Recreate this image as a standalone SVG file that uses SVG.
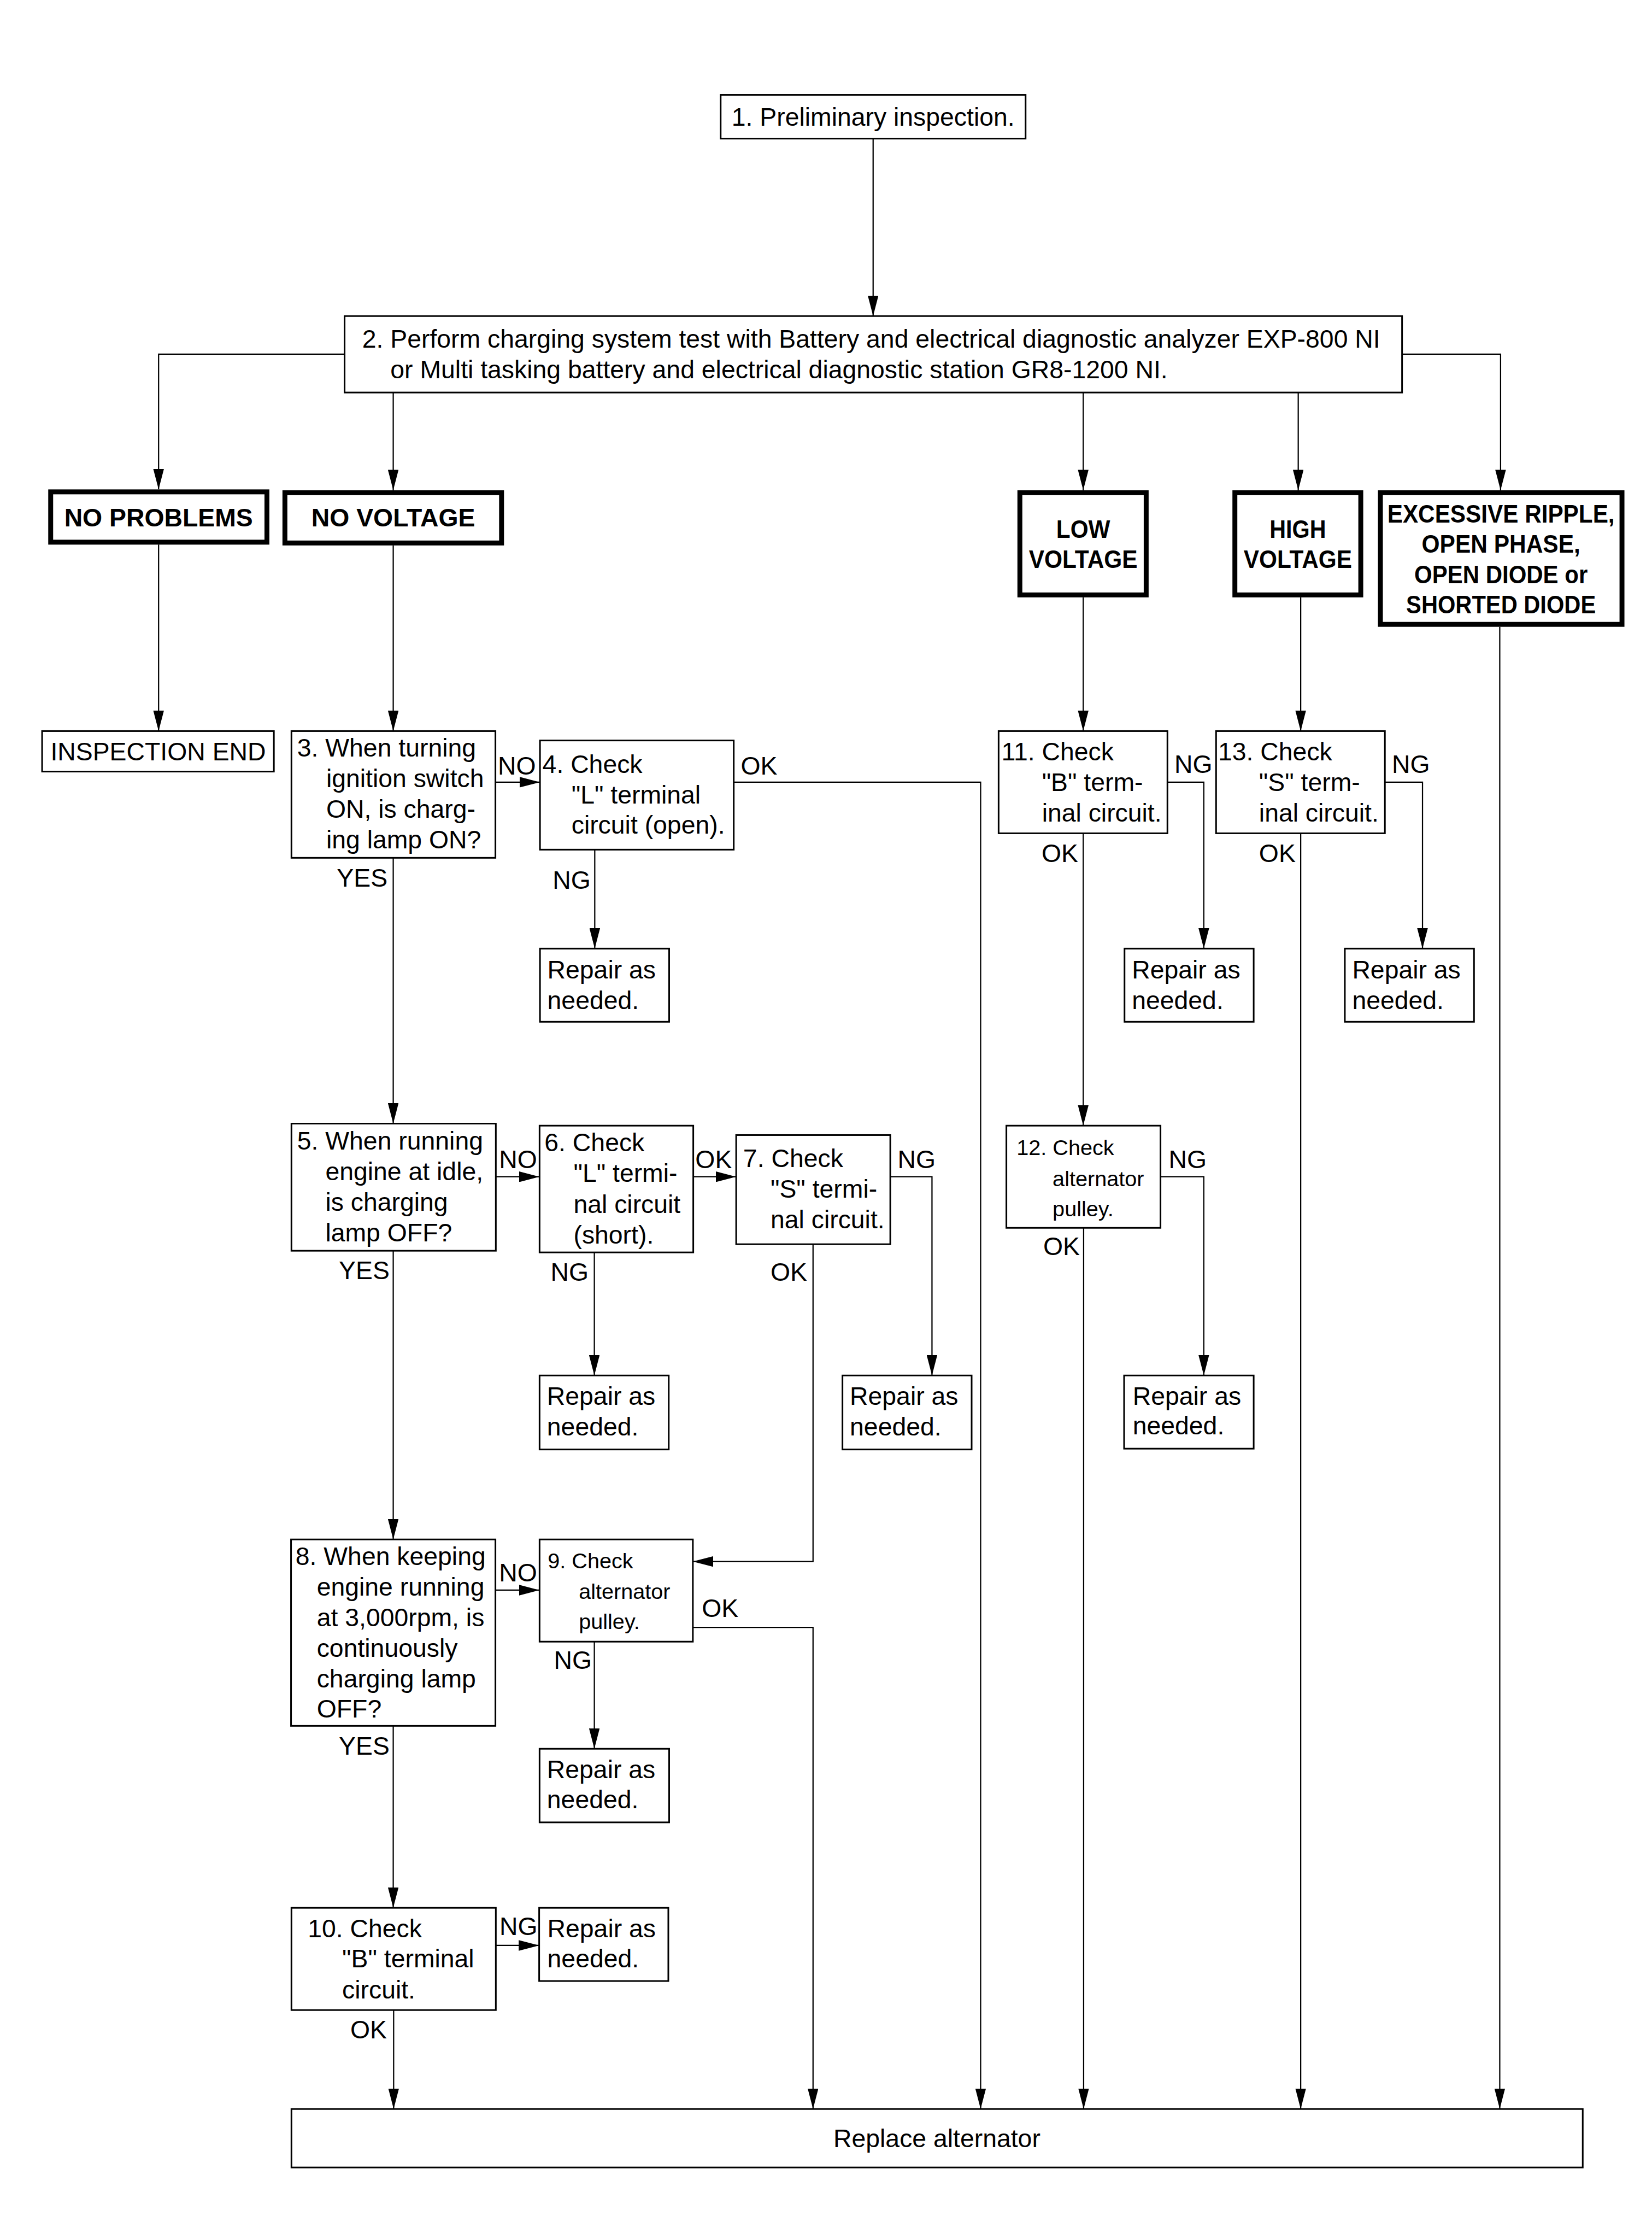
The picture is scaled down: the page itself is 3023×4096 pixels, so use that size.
<svg xmlns="http://www.w3.org/2000/svg" width="3023" height="4096" viewBox="0 0 3023 4096">
<style>
.box{fill:#fff;stroke:#000;stroke-width:4}
.bbox{fill:#fff;stroke:#000;stroke-width:12}
.t{font-family:"Liberation Sans",Arial,Helvetica,sans-serif;font-size:62px;fill:#000}
.b{font-weight:bold}
.s{font-size:53px}
.c{text-anchor:middle}
.ln{fill:none;stroke:#000;stroke-width:3;marker-end:url(#ah)}
.pl{fill:none;stroke:#000;stroke-width:3}
</style>
<defs>
<marker id="ah" viewBox="0 0 50 26" refX="50" refY="13" markerWidth="50" markerHeight="26" markerUnits="userSpaceOnUse" orient="auto">
<path d="M0,0 L50,13 L0,26 Z" fill="#000"/>
</marker>
</defs>
<rect width="3023" height="4096" fill="#fff"/>
<g transform="scale(0.748)">
<g id="connectors">
<path class="ln" d="M2136,339 V773"/>
<path class="ln" d="M843,866 H388 V1197"/>
<path class="ln" d="M962,960 V1199"/>
<path class="ln" d="M2650,960 V1199"/>
<path class="ln" d="M3176,960 V1199"/>
<path class="ln" d="M3430,866 H3671 V1199"/>
<path class="ln" d="M388,1332 V1788"/>
<path class="ln" d="M962,1334 V1788"/>
<path class="ln" d="M2650,1461 V1788"/>
<path class="ln" d="M3182,1461 V1788"/>
<path class="ln" d="M3669,1533 V5158"/>
<path class="ln" d="M1212,1913 H1321"/>
<path class="ln" d="M1795,1913 H2399 V5158"/>
<path class="ln" d="M1455,2078 V2320"/>
<path class="ln" d="M962,2098 V2748"/>
<path class="ln" d="M2856,1913 H2945 V2320"/>
<path class="ln" d="M2650,2038 V2753"/>
<path class="ln" d="M3388,1913 H3480 V2320"/>
<path class="ln" d="M3182,2038 V5158"/>
<path class="ln" d="M1213,2878 H1320"/>
<path class="ln" d="M1696,2878 H1801"/>
<path class="ln" d="M2178,2878 H2280 V3364"/>
<path class="ln" d="M1454,3063 V3364"/>
<path class="ln" d="M1989,3043 V3819 H1695"/>
<path class="ln" d="M962,3059 V3765"/>
<path class="ln" d="M2839,2878 H2945 V3364"/>
<path class="ln" d="M2651,3003 V5158"/>
<path class="ln" d="M1212,3889 H1320"/>
<path class="ln" d="M1695,3980 H1989 V5158"/>
<path class="ln" d="M1454,4015 V4277"/>
<path class="ln" d="M962,4221 V4666"/>
<path class="ln" d="M1213,4758 H1319"/>
<path class="ln" d="M963,4916 V5158"/>
</g>
<g id="labels" class="t">
<text x="1218" y="1894">NO</text>
<text x="1812" y="1894">OK</text>
<text x="824" y="2169">YES</text>
<text x="1352" y="2174">NG</text>
<text x="2873" y="1891">NG</text>
<text x="2548" y="2108">OK</text>
<text x="3405" y="1891">NG</text>
<text x="3080" y="2108">OK</text>
<text x="1221" y="2857">NO</text>
<text x="1701" y="2857">OK</text>
<text x="2196" y="2857">NG</text>
<text x="829" y="3129">YES</text>
<text x="1347" y="3132">NG</text>
<text x="1885" y="3132">OK</text>
<text x="2859" y="2857">NG</text>
<text x="2552" y="3069">OK</text>
<text x="1221" y="3868">NO</text>
<text x="1717" y="3955">OK</text>
<text x="1355" y="4082">NG</text>
<text x="829" y="4291">YES</text>
<text x="1222" y="4732">NG</text>
<text x="857" y="4985">OK</text>
</g>
<g id="n1">
<rect class="box" x="1763" y="232" width="746" height="107"/>
<text class="t c" x="2136" y="307">1. Preliminary inspection.</text>
</g>
<g id="n2">
<rect class="box" x="843" y="773" width="2587" height="187"/>
<text class="t" x="886" y="850">2. Perform charging system test with Battery and electrical diagnostic analyzer EXP-800 NI</text>
<text class="t" x="955" y="925">or Multi tasking battery and electrical diagnostic station GR8-1200 NI.</text>
</g>
<g id="n-noproblems">
<rect class="bbox" x="124" y="1203" width="529" height="123"/>
<text class="t b c" x="388" y="1287">NO PROBLEMS</text>
</g>
<g id="n-novoltage">
<rect class="bbox" x="697" y="1205" width="530" height="123"/>
<text class="t b c" x="962" y="1288">NO VOLTAGE</text>
</g>
<g id="n-lowvoltage">
<rect class="bbox" x="2495" y="1205" width="309" height="250"/>
<text class="t b c" x="2650" y="1315" textLength="132" lengthAdjust="spacingAndGlyphs">LOW</text>
<text class="t b c" x="2650" y="1389" textLength="266" lengthAdjust="spacingAndGlyphs">VOLTAGE</text>
</g>
<g id="n-highvoltage">
<rect class="bbox" x="3021" y="1205" width="308" height="250"/>
<text class="t b c" x="3175" y="1315" textLength="138" lengthAdjust="spacingAndGlyphs">HIGH</text>
<text class="t b c" x="3175" y="1389" textLength="265" lengthAdjust="spacingAndGlyphs">VOLTAGE</text>
</g>
<g id="n-excessive">
<rect class="bbox" x="3377" y="1205" width="591" height="322"/>
<text class="t b c" x="3672" y="1278" textLength="556" lengthAdjust="spacingAndGlyphs">EXCESSIVE RIPPLE,</text>
<text class="t b c" x="3672" y="1352" textLength="388" lengthAdjust="spacingAndGlyphs">OPEN PHASE,</text>
<text class="t b c" x="3672" y="1426" textLength="424" lengthAdjust="spacingAndGlyphs">OPEN DIODE or</text>
<text class="t b c" x="3672" y="1500" textLength="464" lengthAdjust="spacingAndGlyphs">SHORTED DIODE</text>
</g>
<g id="n-inspectionend">
<rect class="box" x="103" y="1788" width="567" height="99"/>
<text class="t c" x="387" y="1859">INSPECTION END</text>
</g>
<g id="n3">
<rect class="box" x="713" y="1788" width="499" height="310"/>
<text class="t" x="727" y="1850">3. When turning</text>
<text class="t" x="798" y="1925">ignition switch</text>
<text class="t" x="798" y="2000">ON, is charg-</text>
<text class="t" x="798" y="2075">ing lamp ON?</text>
</g>
<g id="n4">
<rect class="box" x="1321" y="1811" width="474" height="267"/>
<text class="t" x="1327" y="1890">4. Check</text>
<text class="t" x="1398" y="1965">"L" terminal</text>
<text class="t" x="1398" y="2039">circuit (open).</text>
</g>
<g id="r4">
<rect class="box" x="1321" y="2320" width="316" height="179"/>
<text class="t" x="1339" y="2393">Repair as</text>
<text class="t" x="1339" y="2468">needed.</text>
</g>
<g id="n11">
<rect class="box" x="2443" y="1788" width="413" height="250"/>
<text class="t" x="2450" y="1859">11. Check</text>
<text class="t" x="2549" y="1935">"B" term-</text>
<text class="t" x="2549" y="2009">inal circuit.</text>
</g>
<g id="r11">
<rect class="box" x="2751" y="2320" width="316" height="179"/>
<text class="t" x="2769" y="2393">Repair as</text>
<text class="t" x="2769" y="2468">needed.</text>
</g>
<g id="n13">
<rect class="box" x="2975" y="1788" width="413" height="250"/>
<text class="t" x="2980" y="1859">13. Check</text>
<text class="t" x="3080" y="1935">"S" term-</text>
<text class="t" x="3080" y="2009">inal circuit.</text>
</g>
<g id="r13">
<rect class="box" x="3290" y="2320" width="316" height="179"/>
<text class="t" x="3308" y="2393">Repair as</text>
<text class="t" x="3308" y="2468">needed.</text>
</g>
<g id="n5">
<rect class="box" x="713" y="2748" width="500" height="311"/>
<text class="t" x="727" y="2811">5. When running</text>
<text class="t" x="796" y="2886">engine at idle,</text>
<text class="t" x="796" y="2961">is charging</text>
<text class="t" x="796" y="3036">lamp OFF?</text>
</g>
<g id="n6">
<rect class="box" x="1320" y="2753" width="376" height="310"/>
<text class="t" x="1332" y="2816">6. Check</text>
<text class="t" x="1403" y="2891">"L" termi-</text>
<text class="t" x="1403" y="2966">nal circuit</text>
<text class="t" x="1403" y="3041">(short).</text>
</g>
<g id="n7">
<rect class="box" x="1801" y="2776" width="377" height="267"/>
<text class="t" x="1818" y="2854">7. Check</text>
<text class="t" x="1885" y="2929">"S" termi-</text>
<text class="t" x="1885" y="3004">nal circuit.</text>
</g>
<g id="r6">
<rect class="box" x="1320" y="3364" width="316" height="181"/>
<text class="t" x="1338" y="3436">Repair as</text>
<text class="t" x="1338" y="3511">needed.</text>
</g>
<g id="r7">
<rect class="box" x="2061" y="3364" width="316" height="181"/>
<text class="t" x="2079" y="3436">Repair as</text>
<text class="t" x="2079" y="3511">needed.</text>
</g>
<g id="n12">
<rect class="box" x="2462" y="2753" width="377" height="250"/>
<text class="t s" x="2487" y="2825">12. Check</text>
<text class="t s" x="2575" y="2901">alternator</text>
<text class="t s" x="2575" y="2975">pulley.</text>
</g>
<g id="r12">
<rect class="box" x="2750" y="3364" width="317" height="179"/>
<text class="t" x="2771" y="3436">Repair as</text>
<text class="t" x="2771" y="3508">needed.</text>
</g>
<g id="n8">
<rect class="box" x="712" y="3765" width="500" height="456"/>
<text class="t" x="723" y="3827">8. When keeping</text>
<text class="t" x="775" y="3902">engine running</text>
<text class="t" x="775" y="3977">at 3,000rpm, is</text>
<text class="t" x="775" y="4052">continuously</text>
<text class="t" x="775" y="4127">charging lamp</text>
<text class="t" x="775" y="4201">OFF?</text>
</g>
<g id="n9">
<rect class="box" x="1320" y="3765" width="375" height="250"/>
<text class="t s" x="1340" y="3836">9. Check</text>
<text class="t s" x="1416" y="3910">alternator</text>
<text class="t s" x="1416" y="3984">pulley.</text>
</g>
<g id="r9">
<rect class="box" x="1320" y="4277" width="317" height="180"/>
<text class="t" x="1338" y="4349">Repair as</text>
<text class="t" x="1338" y="4423">needed.</text>
</g>
<g id="n10">
<rect class="box" x="713" y="4666" width="500" height="250"/>
<text class="t" x="753" y="4738">10. Check</text>
<text class="t" x="837" y="4812">"B" terminal</text>
<text class="t" x="837" y="4888">circuit.</text>
</g>
<g id="r10">
<rect class="box" x="1319" y="4666" width="316" height="179"/>
<text class="t" x="1339" y="4738">Repair as</text>
<text class="t" x="1339" y="4812">needed.</text>
</g>
<g id="n-replace">
<rect class="box" x="713" y="5158" width="3159" height="143"/>
<text class="t c" x="2292" y="5252">Replace alternator</text>
</g>
</g>
</svg>
